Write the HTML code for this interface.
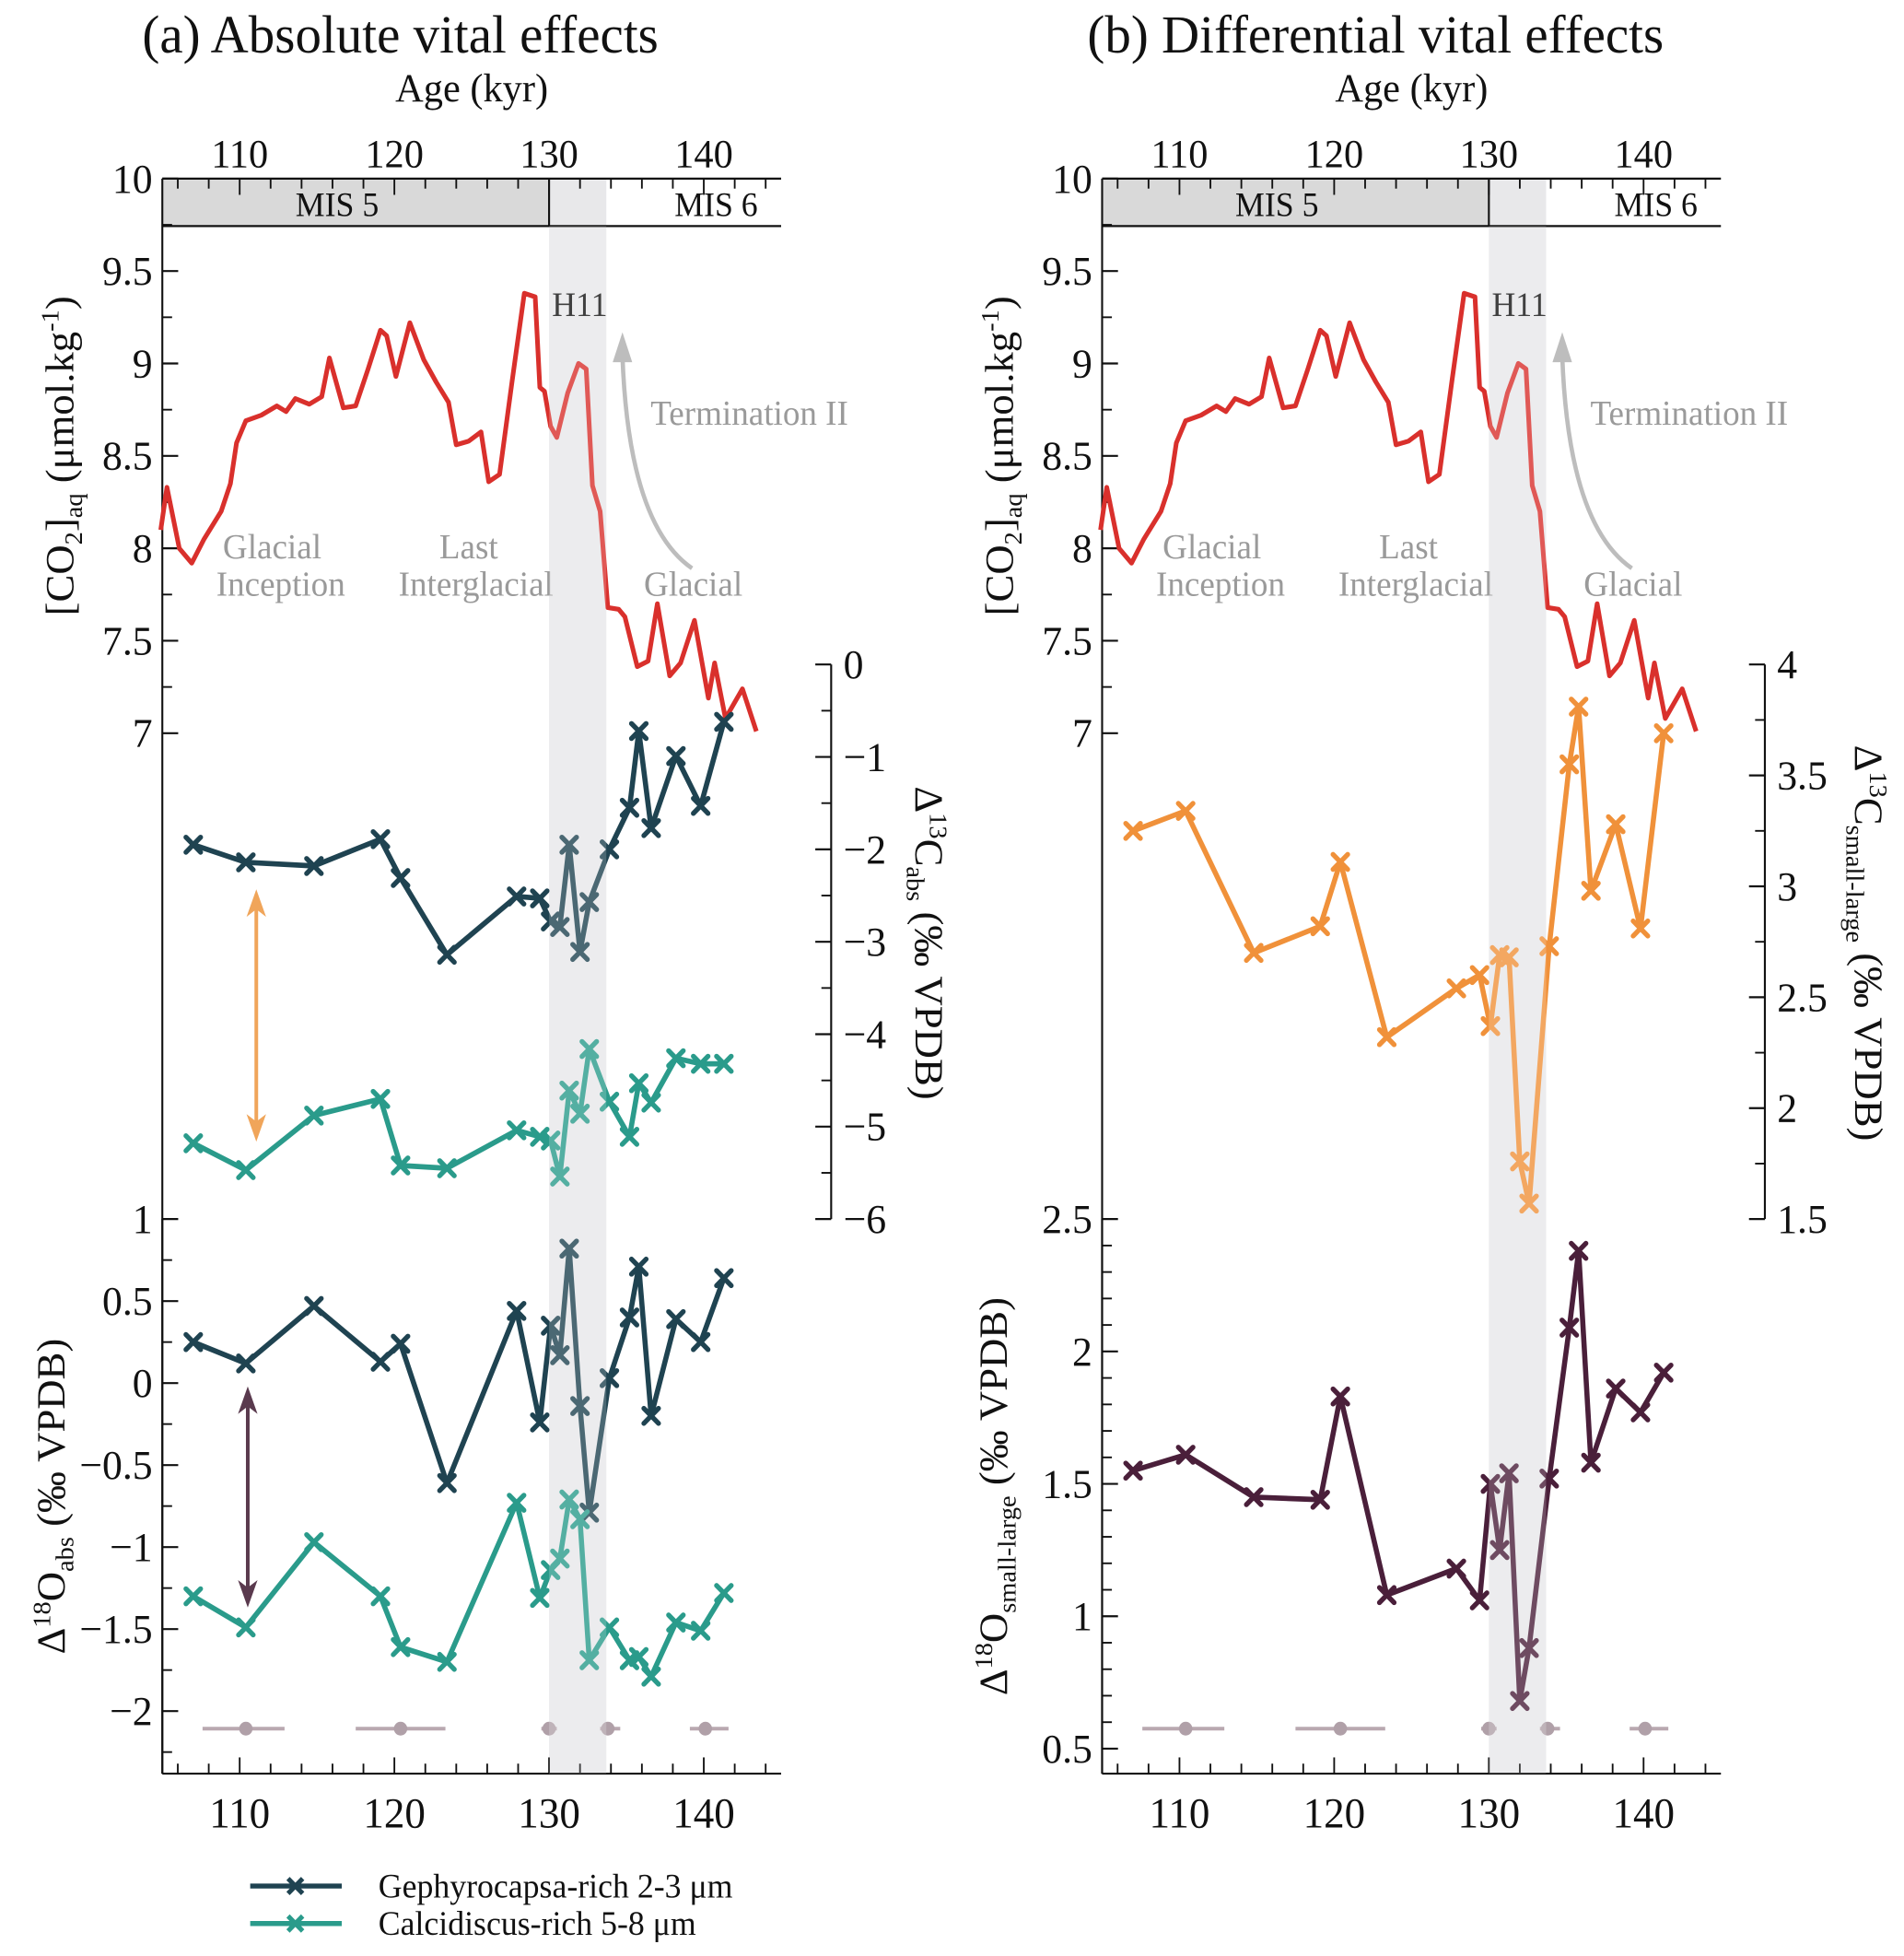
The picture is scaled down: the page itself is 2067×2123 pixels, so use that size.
<!DOCTYPE html>
<html><head><meta charset="utf-8"><style>
html,body{margin:0;padding:0;background:#fff;}
svg{display:block;}
text{font-family:"Liberation Serif",serif;}
</style></head><body>
<svg id="chart" xmlns="http://www.w3.org/2000/svg" width="2067" height="2123" viewBox="0 0 1560 1566" preserveAspectRatio="none">
<rect x="0" y="0" width="1560" height="1566" fill="#fff"/>
</svg>
<script>
const sampleAges=[107.0,110.4,114.8,119.1,120.4,123.4,127.9,129.4,130.1,130.7,131.3,132.0,132.6,133.9,135.2,135.8,136.6,138.2,139.8,141.3];
const gephD13=[-1.95,-2.14,-2.18,-1.89,-2.31,-3.14,-2.51,-2.53,-2.78,-2.84,-1.95,-3.11,-2.57,-2.00,-1.55,-0.72,-1.77,-0.99,-1.53,-0.62];
const calcD13=[-5.18,-5.47,-4.88,-4.70,-5.42,-5.45,-5.04,-5.11,-5.15,-5.54,-4.61,-4.86,-4.16,-4.73,-5.11,-4.53,-4.74,-4.26,-4.32,-4.32];
const gephD18=[0.25,0.12,0.47,0.13,0.24,-0.61,0.44,-0.24,0.35,0.17,0.82,-0.14,-0.79,0.03,0.40,0.71,-0.20,0.39,0.25,0.64];
const calcD18=[-1.30,-1.49,-0.97,-1.30,-1.61,-1.70,-0.73,-1.31,-1.14,-1.07,-0.71,-0.83,-1.69,-1.49,-1.69,-1.67,-1.79,-1.46,-1.51,-1.28];
const slD13=[3.25,3.34,2.70,2.82,3.11,2.32,2.54,2.60,2.37,2.69,2.68,1.76,1.57,2.73,3.55,3.81,2.98,3.28,2.81,3.69];
const slD18=[1.55,1.61,1.45,1.44,1.83,1.08,1.18,1.06,1.50,1.25,1.54,0.68,0.88,1.52,2.09,2.38,1.58,1.86,1.77,1.92];
const co2Ages=[104.9,105.3,106.1,106.9,107.7,108.8,109.4,109.8,110.4,111.4,112.4,113.0,113.6,114.5,115.3,115.8,116.7,117.5,118.3,119.1,119.5,120.1,121.0,121.9,122.7,123.5,124.0,124.8,125.6,126.1,126.8,127.6,128.4,129.1,129.4,129.7,130.1,130.5,131.2,131.9,132.4,132.8,133.3,133.8,134.5,134.9,135.7,136.4,137.0,137.8,138.5,139.4,140.3,140.7,141.4,142.5,143.4];
const co2Vals=[8.1,8.33,8.0,7.92,8.05,8.2,8.35,8.57,8.69,8.72,8.77,8.74,8.81,8.78,8.82,9.03,8.76,8.77,8.97,9.18,9.15,8.93,9.22,9.02,8.9,8.79,8.56,8.58,8.63,8.36,8.4,8.9,9.38,9.36,8.87,8.85,8.66,8.6,8.84,9.0,8.97,8.34,8.2,7.68,7.67,7.63,7.36,7.39,7.7,7.31,7.38,7.61,7.19,7.38,7.08,7.24,7.01];
const errCenters=[110.4,120.4,130.0,133.8,140.1];
const errLow=[107.6,117.5,129.5,133.3,139.1];
const errHigh=[112.9,123.3,130.5,134.6,141.6];
const ageTicks=[110,120,130,140];

const NS="http://www.w3.org/2000/svg";
const svg=document.getElementById('chart');
function mk(tag,attrs,parent){const e=document.createElementNS(NS,tag);for(const k in attrs)e.setAttribute(k,attrs[k]);(parent||svg).appendChild(e);return e;}
function txt(s,x,y,size,attrs,parent){const e=mk('text',Object.assign({x:x,y:y,'font-size':size,'text-anchor':'middle',fill:'#111'},attrs||{}),parent);e.innerHTML=s;return e;}

const L=133,R=640,OFF=770;
const xa=a=>L+(a-105)*(R-L)/40;
const yCO2=v=>143+(10-v)*148;
const yD13a=v=>532-v*74;
const yD18a=v=>976+(1-v)*131.3;
const yD13b=v=>532+(4-v)*177.6;
const yD18b=v=>976+(2.5-v)*212;

for(const off of [0,OFF]){
  const b=mk('rect',{x:xa(130)+off,y:143,width:xa(133.7)-xa(130),height:1277,fill:'#e8e8ea'});
  
  
  const m=mk('rect',{x:L+off,y:143,width:xa(130)-L,height:38,fill:'#d9d9d9'});
  
  
}

function yAxis(x,y0,y1,vals,fmt,scale,dir,minor,labelSide,name){
  const g=mk('g',{});
  
  
  mk('line',{x1:x,y1:y0,x2:x,y2:y1,stroke:'#111','stroke-width':1.6},g);
  vals.forEach((v,i)=>{const y=scale(v);
    mk('line',{x1:x,y1:y,x2:x+dir*13,y2:y,stroke:'#111','stroke-width':1.6},g);
    txt(fmt[i],labelSide<0?x-8:x+10,y+11,33,{'text-anchor':labelSide<0?'end':'start'},g);
  });
  minor.vals.forEach(v=>{const y=scale(v);mk('line',{x1:x,y1:y,x2:x+dir*8,y2:y,stroke:'#111','stroke-width':1.4},g);});
}

function xAxes(off){
  const g=mk('g',{});
  
  
  mk('line',{x1:L+off,y1:143,x2:R+off,y2:143,stroke:'#111','stroke-width':1.6},g);
  mk('line',{x1:L+off,y1:181,x2:R+off,y2:181,stroke:'#111','stroke-width':1.6},g);
  mk('line',{x1:xa(130)+off,y1:143,x2:xa(130)+off,y2:181,stroke:'#111','stroke-width':1.6},g);
  mk('line',{x1:L+off,y1:1420,x2:R+off,y2:1420,stroke:'#111','stroke-width':1.6},g);
  for(let a=106;a<=144;a+=2){const x=xa(a)+off;const maj=(a%10===0);
    mk('line',{x1:x,y1:1420,x2:x,y2:1420-(maj?13:8),stroke:'#111','stroke-width':1.4},g);
    mk('line',{x1:x,y1:143,x2:x,y2:143+(maj?13:8),stroke:'#111','stroke-width':1.4},g);}
  ageTicks.forEach(a=>{txt(String(a),xa(a)+off,134,32,{},g);txt(String(a),xa(a)+off,1463,34,{},g);});
  txt('MIS 5',xa(116.3)+off,173,27,{},g);
  txt('MIS 6',xa(140.8)+off,173,27,{},g);
  txt('Age (kyr)',(L+R)/2+off,81,32,{},g);
}

function series(ages,vals,ys,off,color,name,markers){
  const g=mk('g',{});
  
  
  const pts=ages.map((a,i)=>(xa(a)+off).toFixed(1)+','+ys(vals[i]).toFixed(1)).join(' ');
  mk('polyline',{points:pts,fill:'none',stroke:color,'stroke-width':markers?4.2:3.8,'stroke-linejoin':'round'},g);
  if(markers){ages.forEach((a,i)=>{const x=xa(a)+off,y=ys(vals[i]),s=6;
    const p=mk('path',{d:`M${x-s},${y-s}L${x+s},${y+s}M${x-s},${y+s}L${x+s},${y-s}`,stroke:color,'stroke-width':4,'stroke-linecap':'round'},g);
    
    
  });}
}

function errBars(off,ys){
  const g=mk('g',{});
  
  
  errCenters.forEach((c,i)=>{const y=ys;
    mk('line',{x1:xa(errLow[i])+off,y1:y,x2:xa(errHigh[i])+off,y2:y,stroke:'#b9a8b0','stroke-width':3},g);
    mk('circle',{cx:xa(c)+off,cy:y,r:5.5,fill:'#b0a0a8'},g);});
}

function annotations(off){
  const g=mk('g',{});
  
  
  txt('H11',475+off,253,27,{},g);
  txt('Termination II',614+off,340,28,{fill:'#9a9a9a'},g);
  txt('Glacial',223+off,447,28,{fill:'#9a9a9a'},g);
  txt('Inception',230+off,477,28,{fill:'#9a9a9a'},g);
  txt('Last',384+off,447,28,{fill:'#9a9a9a'},g);
  txt('Interglacial',390+off,477,28,{fill:'#9a9a9a'},g);
  txt('Glacial',568+off,477,28,{fill:'#9a9a9a'},g);
  mk('path',{d:`M${567+off},455 Q${515+off},420 ${510+off},285`,fill:'none',stroke:'#bdbdbd','stroke-width':3.5},g);
  mk('path',{d:`M${502+off},290 L${510+off},266 L${518+off},290 Z`,fill:'#bdbdbd'},g);
}

xAxes(0); xAxes(OFF);
yAxis(L,143,1420,[10,9.5,9,8.5,8,7.5,7],['10','9.5','9','8.5','8','7.5','7'],yCO2,1,{vals:[9.75,9.25,8.75,8.25,7.75,7.25]},-1,'co2-axis-a');
yAxis(681,532,976,[0,-1,-2,-3,-4,-5,-6],['0','\u22121','\u22122','\u22123','\u22124','\u22125','\u22126'],yD13a,-1,{vals:[-0.5,-1.5,-2.5,-3.5,-4.5,-5.5]},1,'d13c-abs-axis');
yAxis(L,976,1420,[1,0.5,0,-0.5,-1,-1.5,-2],['1','0.5','0','\u22120.5','\u22121','\u22121.5','\u22122'],yD18a,1,{vals:[0.75,0.25,-0.25,-0.75,-1.25,-1.75,-2.25]},-1,'d18o-abs-axis');
yAxis(L+OFF,143,1420,[10,9.5,9,8.5,8,7.5,7],['10','9.5','9','8.5','8','7.5','7'],yCO2,1,{vals:[9.75,9.25,8.75,8.25,7.75,7.25]},-1,'co2-axis-b');
yAxis(1446,532,976,[4,3.5,3,2.5,2,1.5],['4','3.5','3','2.5','2','1.5'],yD13b,-1,{vals:[3.75,3.25,2.75,2.25,1.75]},1,'d13c-sl-axis');
yAxis(L+OFF,976,1420,[2.5,2,1.5,1,0.5],['2.5','2','1.5','1','0.5'],yD18b,1,{vals:[2.4,2.3,2.2,2.1,1.9,1.8,1.7,1.6,1.4,1.3,1.2,1.1,0.9,0.8,0.7,0.6]},-1,'d18o-sl-axis');

annotations(0); annotations(OFF);
series(co2Ages,co2Vals,yCO2,0,'#d9302c','co2-line-a',false);
series(co2Ages,co2Vals,yCO2,OFF,'#d9302c','co2-line-b',false);
series(sampleAges,gephD13,yD13a,0,'#1f4351','geph-d13c',true);
series(sampleAges,calcD13,yD13a,0,'#2a9b8b','calc-d13c',true);
series(sampleAges,gephD18,yD18a,0,'#1f4351','geph-d18o',true);
series(sampleAges,calcD18,yD18a,0,'#2a9b8b','calc-d18o',true);
series(sampleAges,slD13,yD13b,OFF,'#f0913a','sl-d13c',true);
series(sampleAges,slD18,yD18b,OFF,'#4a1f3a','sl-d18o',true);
errBars(0,1384); errBars(OFF,1384);

for(const off of [0,OFF]){
  const o=mk('rect',{x:xa(130)+off,y:181,width:xa(133.7)-xa(130),height:1239,fill:'#fff','fill-opacity':0.2});
  
  
}

function dblArrow(x,y0,y1,color,name){
  const g=mk('g',{});
  
  
  mk('line',{x1:x,y1:y0+15,x2:x,y2:y1-15,stroke:color,'stroke-width':3},g);
  mk('path',{d:`M${x},${y0} L${x-8},${y0+22} L${x},${y0+16} L${x+8},${y0+22}Z`,fill:color},g);
  mk('path',{d:`M${x},${y1} L${x-8},${y1-22} L${x},${y1-16} L${x+8},${y1-22}Z`,fill:color},g);
}
dblArrow(210,712,914,'#f0a55a','d13c-gap-arrow');
dblArrow(203,1110,1287,'#5a3a4e','d18o-gap-arrow');

const tA=txt('(a) Absolute vital effects',328,42,43,{});


const tB=txt('(b) Differential vital effects',1127,42,43,{});


function vtitle(html,x,y,rot,name){const t=txt(html,x,y,33,{transform:`rotate(${rot} ${x} ${y})`});
  
  }
vtitle('[CO<tspan font-size="21" dy="7">2</tspan><tspan dy="-7">]</tspan><tspan font-size="21" dy="7">aq</tspan><tspan dy="-7"> (μmol.kg</tspan><tspan font-size="21" dy="-12">-1</tspan><tspan dy="12">)</tspan>',60,365,-90,'co2-axis-title-a');
vtitle('[CO<tspan font-size="21" dy="7">2</tspan><tspan dy="-7">]</tspan><tspan font-size="21" dy="7">aq</tspan><tspan dy="-7"> (μmol.kg</tspan><tspan font-size="21" dy="-12">-1</tspan><tspan dy="12">)</tspan>',830,365,-90,'co2-axis-title-b');
vtitle('Δ<tspan font-size="21" dy="-12">18</tspan><tspan dy="12">O</tspan><tspan font-size="21" dy="7">abs</tspan><tspan dy="-7"> (‰ VPDB)</tspan>',53,1198,-90,'d18o-abs-title');
vtitle('Δ<tspan font-size="21" dy="-12">13</tspan><tspan dy="12">C</tspan><tspan font-size="21" dy="7">abs</tspan><tspan dy="-7"> (‰ VPDB)</tspan>',750,755,90,'d13c-abs-title');
vtitle('Δ<tspan font-size="21" dy="-12">18</tspan><tspan dy="12">O</tspan><tspan font-size="21" dy="7">small-large</tspan><tspan dy="-7"> (‰ VPDB)</tspan>',825,1198,-90,'d18o-sl-title');
vtitle('Δ<tspan font-size="21" dy="-12">13</tspan><tspan dy="12">C</tspan><tspan font-size="21" dy="7">small-large</tspan><tspan dy="-7"> (‰ VPDB)</tspan>',1520,755,90,'d13c-sl-title');

const lg=mk('g',{});


[['Gephyrocapsa-rich 2-3 μm','#1f4351',1510],['Calcidiscus-rich 5-8 μm','#2a9b8b',1540]].forEach(([lab,c,y])=>{
  const e=mk('g',{},lg);
  
  
  mk('line',{x1:205,y1:y,x2:280,y2:y,stroke:c,'stroke-width':4},e);
  mk('path',{d:`M236,${y-6}L248,${y+6}M236,${y+6}L248,${y-6}`,stroke:c,'stroke-width':3.8},e);
  txt(lab,310,y+9,27,{'text-anchor':'start'},e);
});
</script>
</body></html>
